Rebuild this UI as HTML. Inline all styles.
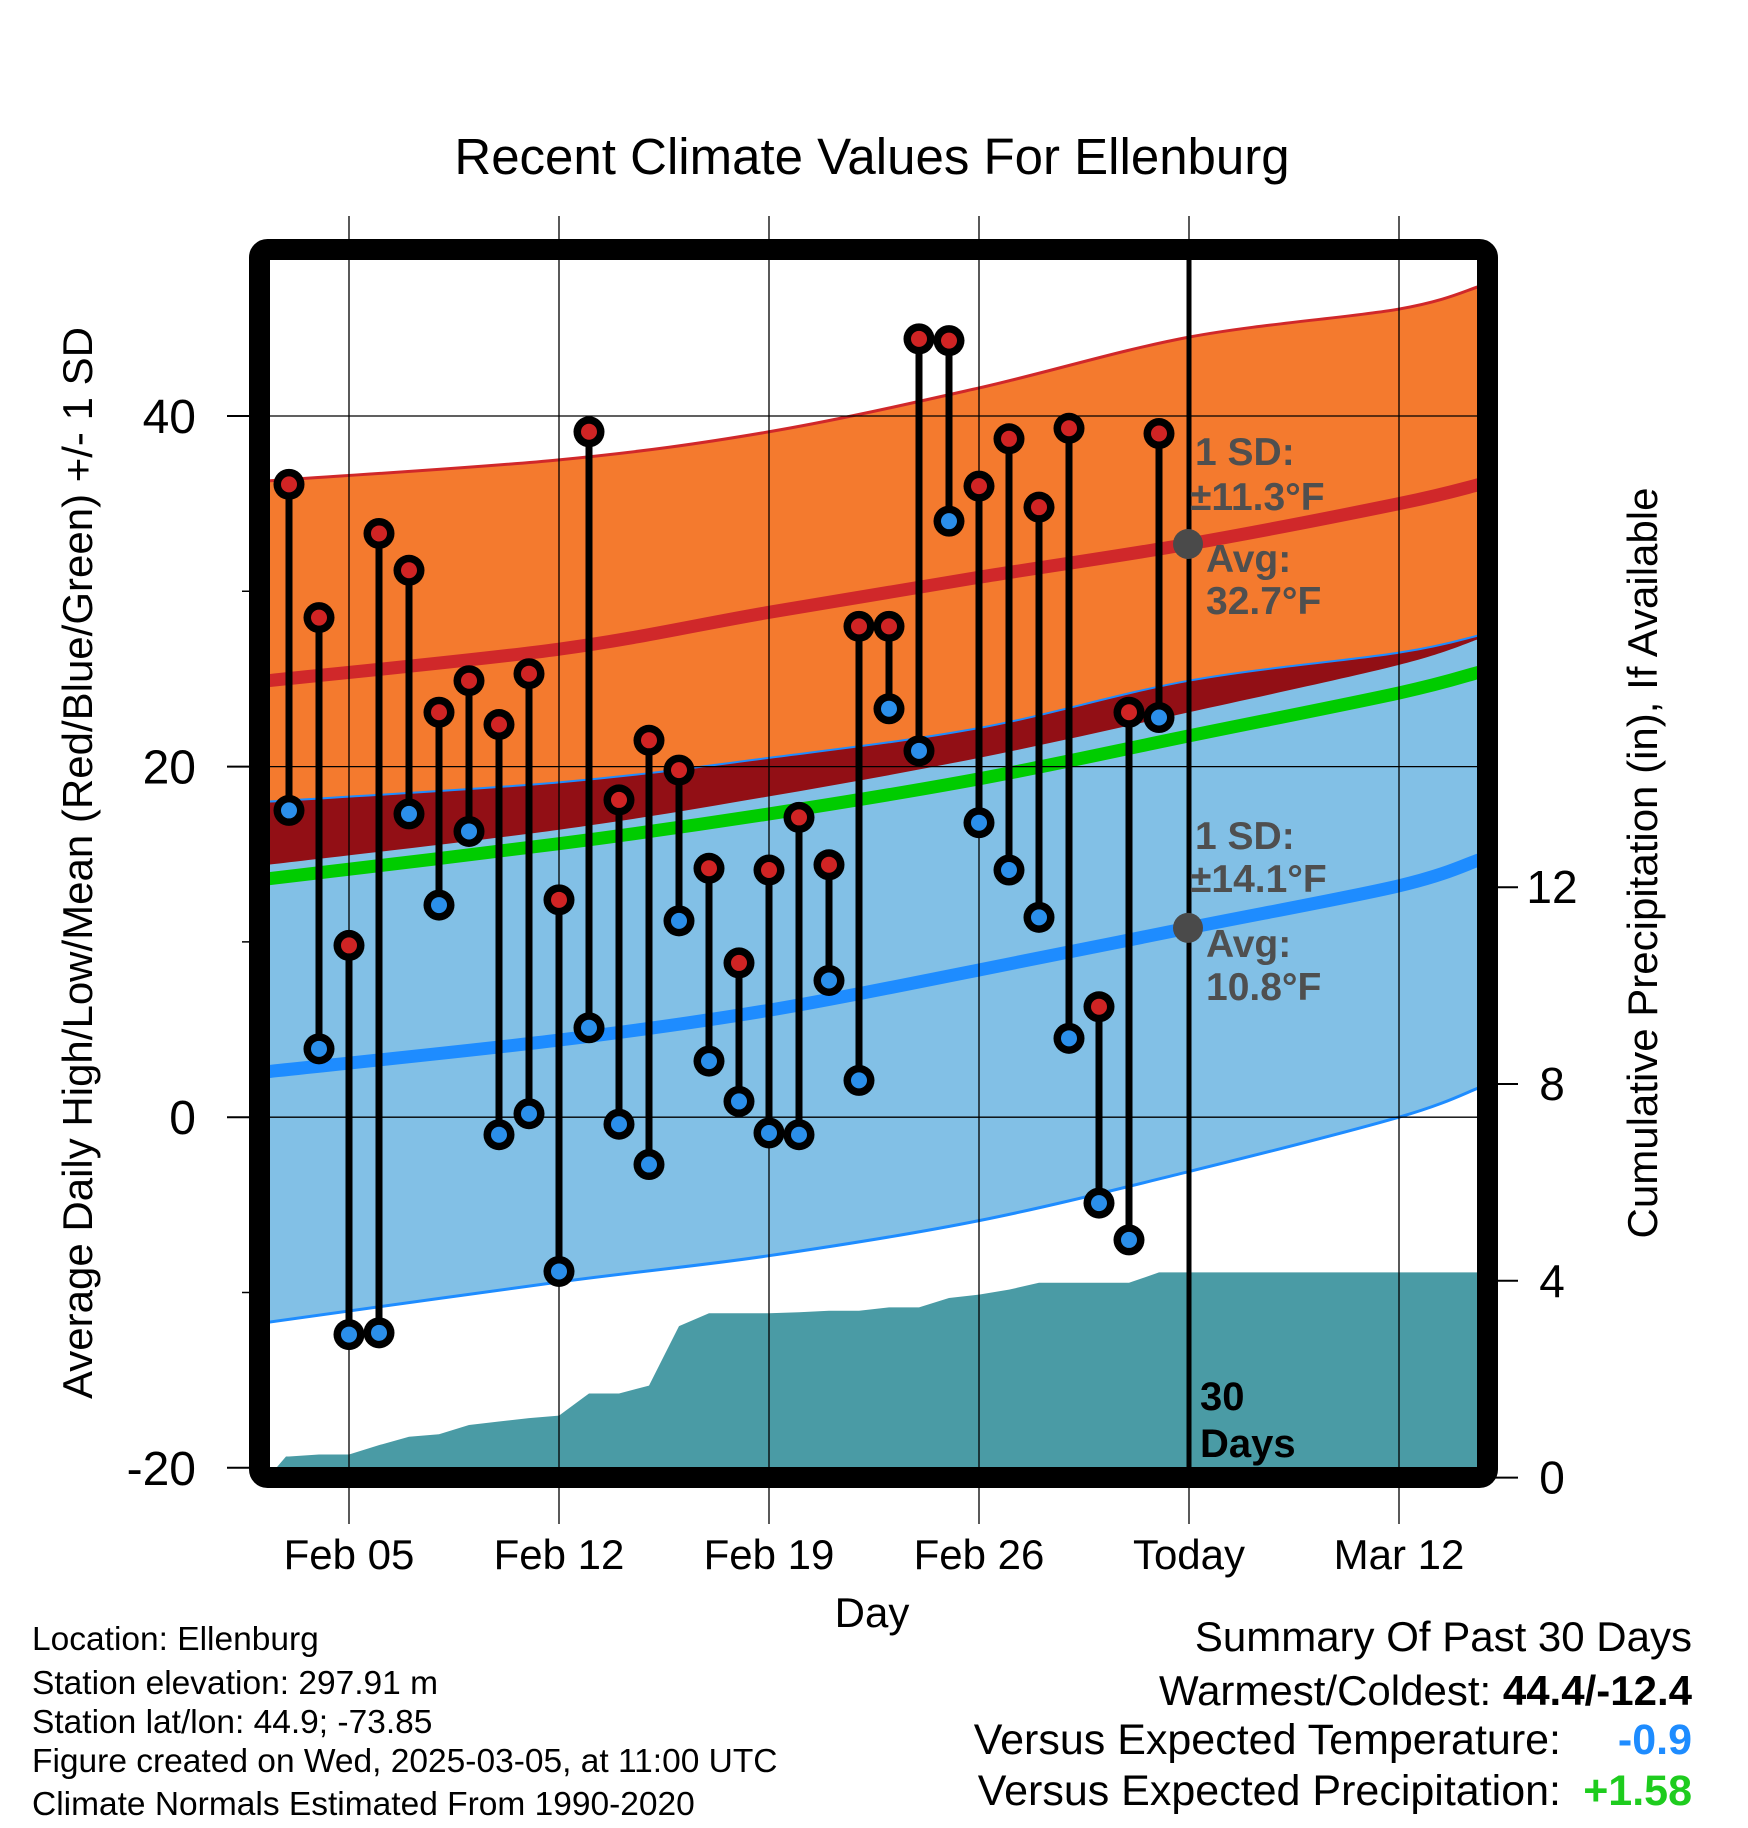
<!DOCTYPE html>
<html><head><meta charset="utf-8"><style>
html,body{margin:0;padding:0;background:#fff;}
svg{display:block;font-family:"Liberation Sans",sans-serif;}
</style></head><body>
<svg id="chart" width="1748" height="1828" viewBox="0 0 1748 1828" xmlns="http://www.w3.org/2000/svg">
<defs><clipPath id="plotclip"><rect x="270" y="260" width="1208" height="1208"/></clipPath></defs>
<text x="872" y="174" font-size="51" text-anchor="middle">Recent Climate Values For Ellenburg</text>
<g id="bands" clip-path="url(#plotclip)"></g>
<g id="grid"></g>
<g id="marks" clip-path="url(#plotclip)"></g>
<g id="axes"></g>
<g id="notes"></g>
</svg>
<script>
// ---- data ----
const dayLabels = ["Feb 05","Feb 12","Feb 19","Feb 26","Today","Mar 12"];
const dayLabelIdx = [2, 9, 16, 23, 30, 37]; // days since Feb 03
const highs = [36.1,28.5,9.8,33.3,31.2,23.1,24.9,22.4,25.3,12.4,39.1,18.1,21.5,19.8,14.2,8.8,14.1,17.1,14.4,28.0,28.0,44.4,44.3,36.0,38.7,34.8,39.3,6.3,23.1,39.0];
const lows = [17.5,3.9,-12.4,-12.3,17.3,12.1,16.3,-1.0,0.2,-8.8,5.1,-0.4,-2.7,11.2,3.2,0.9,-0.9,-1.0,7.8,2.1,23.3,20.9,34.0,16.8,14.1,11.4,4.5,-4.9,-7.0,22.8];
const precip = [0.43,0.47,0.47,0.66,0.83,0.88,1.07,1.14,1.21,1.26,1.71,1.71,1.87,3.08,3.34,3.34,3.34,3.36,3.39,3.39,3.46,3.46,3.65,3.72,3.82,3.96,3.96,3.96,3.96,4.17];
const normDays = [-0.7, 9, 16, 23, 30, 37, 39.7];
const hiUpper = [36.3,37.5,39.1,41.6,44.5,46.1,47.4];
const hiAvg = [24.9,26.7,28.8,30.8,32.7,35.0,36.1];
const hiLower = [14.4,16.4,18.3,20.5,23.1,25.8,27.3];
const meanLine = [13.6,15.6,17.3,19.3,21.75,24.2,25.4];
const loUpper = [18.0,19.1,20.5,22.2,24.9,26.5,27.5];
const loAvg = [2.6,4.4,6.1,8.4,10.8,13.2,14.7];
const loLower = [-11.7,-9.4,-7.9,-5.9,-3.1,0.0,1.7];
const yTicks = [40,20,0,-20];
const yMinor = [30,10,-10];
const pTicks = [0,4,8,12];

// ---- scales ----
const X = d => 289 + 30*d;
const Y = v => 416 + (40 - v)*17.53;
const P = p => 1477.6 - p*49.2;
const NS = "http://www.w3.org/2000/svg";
function mk(tag, attrs, parent){const e=document.createElementNS(NS,tag);for(const k in attrs)e.setAttribute(k,attrs[k]);parent.appendChild(e);return e;}
const bands=document.getElementById('bands'), grid=document.getElementById('grid'), marks=document.getElementById('marks'), axes=document.getElementById('axes'), notes=document.getElementById('notes');
function smoothSeg(p){ // catmull-rom through points p (array of [x,y]), returns path segments after first point
  let s="";
  for(let i=0;i<p.length-1;i++){
    const p0=p[i-1]||p[i], p1=p[i], p2=p[i+1], p3=p[i+2]||p2;
    const c1=[p1[0]+(p2[0]-p0[0])/6, p1[1]+(p2[1]-p0[1])/6];
    const c2=[p2[0]-(p3[0]-p1[0])/6, p2[1]-(p3[1]-p1[1])/6];
    s+=" C"+c1[0]+","+c1[1]+" "+c2[0]+","+c2[1]+" "+p2[0]+","+p2[1];
  }
  return s;
}
function ptsArr(arr){return normDays.map((d,i)=>[X(d),Y(arr[i])]);}
function band(up, lo, fill, name){
  const a=ptsArr(up), b=ptsArr(lo).reverse();
  const d="M"+a[0][0]+","+a[0][1]+smoothSeg(a)+" L"+b[0][0]+","+b[0][1]+smoothSeg(b)+" Z";
  const e=mk('path',{d:d,fill:fill},bands);
  
  
}
band(hiUpper, hiLower, "#F47A2E", "high-sd-band");
band(loUpper, loLower, "#82C0E6", "low-sd-band");
band(loUpper, hiLower, "#920F15", "overlap-band");
function line(arr, color, w, name){
  const a=ptsArr(arr);
  const e=mk('path',{d:"M"+a[0][0]+","+a[0][1]+smoothSeg(a),fill:"none",stroke:color,"stroke-width":w},bands);
  
  
}
line(hiUpper,"#D0282A",3,"high-upper-line");
line(loUpper,"#1E8CFF",2,"low-upper-line");
line(loLower,"#1E8CFF",3,"low-lower-line");
line(meanLine,"#00CC00",13,"mean-line");
line(hiAvg,"#D0282A",13,"high-avg-line");
line(loAvg,"#1E8CFF",13,"low-avg-line");
// precip area
{
  let s = X(-0.7)+","+P(0)+" "+X(-0.1)+","+P(precip[0]);
  precip.forEach((p,i)=>{ s += " "+X(i)+","+P(p); });
  s += " "+X(39.7)+","+P(precip[precip.length-1])+" "+X(39.7)+","+P(0);
  const e=mk('polygon',{points:s,fill:"#4A9BA5"},bands);
  
  
}
// grid
dayLabelIdx.forEach((d,i)=>{
  const e=mk('line',{x1:X(d),x2:X(d),y1:216,y2:1524,stroke:"#000","stroke-width":1.3},grid);
  
  
  const t=mk('text',{x:X(d),y:1569,"font-size":42,"text-anchor":"middle"},axes);
  t.textContent=dayLabels[i];
  
  
});
yTicks.forEach(v=>{
  if(v>-20){
    const e=mk('line',{x1:270,x2:1478,y1:Y(v),y2:Y(v),stroke:"#000","stroke-width":1.3},grid);
    
    
  }
  const k=mk('line',{x1:227,x2:260,y1:Y(v),y2:Y(v),stroke:"#000","stroke-width":2},axes);
  
  
  const t=mk('text',{x:196,y:Y(v)+17,"font-size":48,"text-anchor":"end"},axes);
  t.textContent=v;
  
  
});
yMinor.forEach(v=>{
  const k=mk('line',{x1:242,x2:260,y1:Y(v),y2:Y(v),stroke:"#000","stroke-width":1.5},axes);
  
  
});
pTicks.forEach(p=>{
  const k=mk('line',{x1:1490,x2:1518,y1:P(p),y2:P(p),stroke:"#000","stroke-width":2},axes);
  
  
  const t=mk('text',{x:1552,y:P(p)+16,"font-size":46,"text-anchor":"middle"},axes);
  t.textContent=p;
  
  
});
// today line
{
  const e=mk('line',{x1:1189,x2:1189,y1:260,y2:1468,stroke:"#000","stroke-width":5},marks);
  
  
}
// stems and markers
highs.forEach((h,i)=>{
  const l=lows[i], x=X(i);
  const s=mk('line',{x1:x,x2:x,y1:Y(h),y2:Y(l),stroke:"#000","stroke-width":7},marks);
  
  
});
highs.forEach((h,i)=>{
  const l=lows[i], x=X(i);
  [[h,"#D02424","high-marker"],[l,"#2B8FEA","low-marker"]].forEach(a=>{
    const o=mk('circle',{cx:x,cy:Y(a[0]),r:15.5,fill:"#000"},marks);
    
    
    mk('circle',{cx:x,cy:Y(a[0]),r:8,fill:a[1]},marks);
  });
});
// annotations
function txt(x,y,s,size,opts,name,parent){
  const t=mk('text',Object.assign({x:x,y:y,"font-size":size},opts||{}),parent||notes);
  t.textContent=s;
  
  
  return t;
}
const g={fill:"#4f4f4f","font-weight":"bold"};
txt(1195,465,"1 SD:",39,g,"high-sd-label");
txt(1190,510,"±11.3°F",39,g,"high-sd-value");
{const c=mk('circle',{cx:1188,cy:Y(32.7),r:15,fill:"#4a4a4a"},notes);}
txt(1206,572,"Avg:",39,g,"high-avg-label");
txt(1206,614,"32.7°F",39,g,"high-avg-value");
txt(1195,849,"1 SD:",39,g,"low-sd-label");
txt(1190,892,"±14.1°F",39,g,"low-sd-value");
{const c=mk('circle',{cx:1188,cy:Y(10.8),r:15,fill:"#4a4a4a"},notes);}
txt(1206,957,"Avg:",39,g,"low-avg-label");
txt(1206,1000,"10.8°F",39,g,"low-avg-value");
txt(1200,1410,"30",40,{"font-weight":"bold"},"days-count");
txt(1200,1457,"Days",40,{"font-weight":"bold"},"days-label");
// frame
{const f=mk('rect',{x:259.5,y:249.5,width:1228,height:1228,rx:8,fill:"none",stroke:"#000","stroke-width":21},axes);}
// axis titles
txt(872,1627,"Day",42,{"text-anchor":"middle"},"x-axis-title");
txt(0,0,"Average Daily High/Low/Mean (Red/Blue/Green) +/- 1 SD",42,{"text-anchor":"middle",transform:"translate(92,863) rotate(-90)"},"y-axis-title");
txt(0,0,"Cumulative Precipitation (in), If Available",42,{"text-anchor":"middle",transform:"translate(1657,863) rotate(-90)"},"precip-axis-title");
// footer left
const info=["Location: Ellenburg","Station elevation: 297.91 m","Station lat/lon: 44.9; -73.85","Figure created on Wed, 2025-03-05, at 11:00 UTC","Climate Normals Estimated From 1990-2020"];
const infoY=[1650,1694,1733,1772,1815];
info.forEach((s,i)=>txt(32,infoY[i],s,33.5,{},"station-info-line"));
// summary right
txt(1692,1651,"Summary Of Past 30 Days",42,{"text-anchor":"end"},"summary-title");
{const t=txt(1692,1705,"Warmest/Coldest: ",42,{"text-anchor":"end"},"warmest-coldest");
 const sp=document.createElementNS(NS,'tspan');sp.setAttribute('font-weight','bold');sp.textContent="44.4/-12.4";t.appendChild(sp);}
txt(1561,1754,"Versus Expected Temperature:",43,{"text-anchor":"end"},"temp-anomaly-label");
txt(1692,1754,"-0.9",43,{"text-anchor":"end",fill:"#1E8CFF","font-weight":"bold"},"temp-anomaly-value");
txt(1561,1805,"Versus Expected Precipitation:",43,{"text-anchor":"end"},"precip-anomaly-label");
txt(1692,1805,"+1.58",43,{"text-anchor":"end",fill:"#1ECC1E","font-weight":"bold"},"precip-anomaly-value");
</script>
</body></html>
